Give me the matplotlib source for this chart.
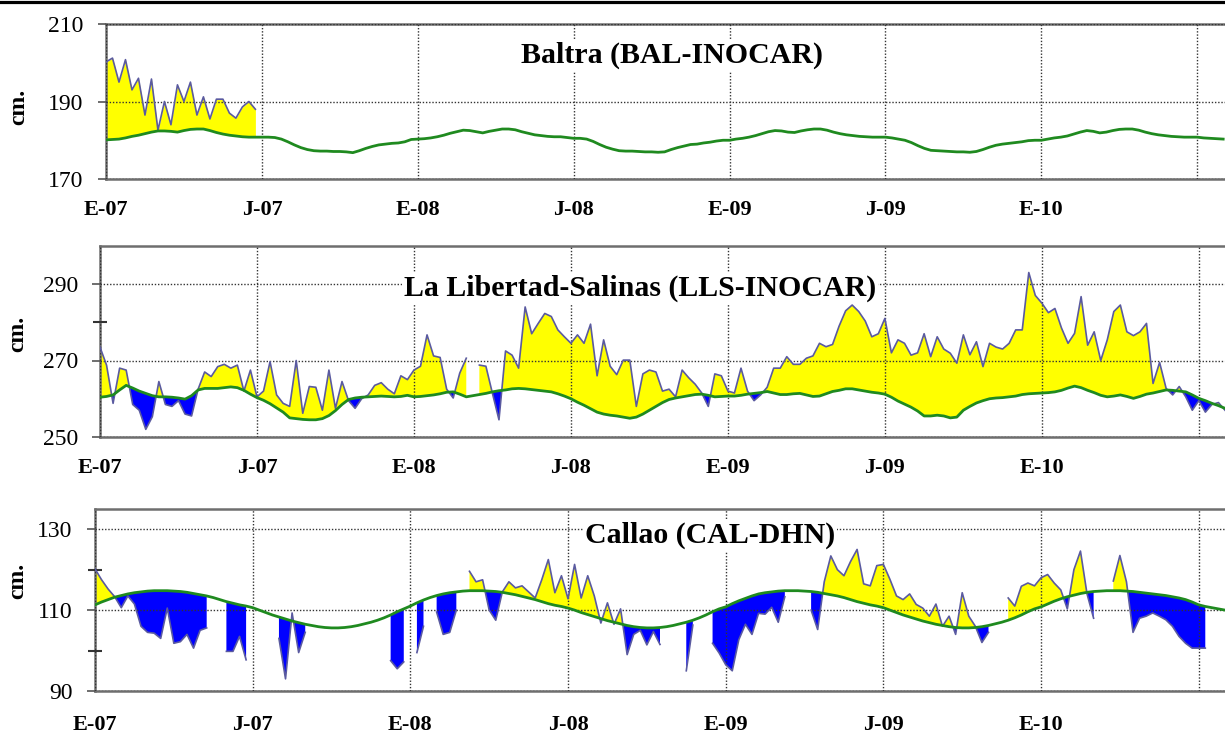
"""
Nivel del mar: Baltra, La Libertad-Salinas y Callao (2007-2010)
"""
import numpy as np
import matplotlib
matplotlib.use('Agg')
import matplotlib.pyplot as plt
from matplotlib.lines import Line2D

nan = np.nan

# eje temporal: pasos de 1/4 de mes desde enero 2007 (173 puntos)
meses = np.arange(173) / 4.0
ticks_x = [0, 6, 12, 18, 24, 30, 36, 42]
etiquetas_x = ['E-07', 'J-07', 'E-08', 'J-08', 'E-09', 'J-09', 'E-10', '']

# Baltra (BAL-INOCAR)
obs_bal = [200.2, 201.2, 195.0, 200.8, 193.0, 196.0, 186.5, 195.8, 182.6, 190.0, 184.0, 194.3,
           190.0, 195.0, 186.5, 191.2, 185.5, 190.6, 190.6, 187.0, 185.7, 188.6, 190.0, 188.0] + [nan] * 149
clim_bal = [180.1, 180.2, 180.3, 180.6, 181.0, 181.3, 181.7, 182.1, 182.4, 182.4, 182.3, 182.1,
            182.5, 182.8, 182.9, 182.9, 182.5, 182.0, 181.6, 181.3, 181.1, 180.9, 180.8, 180.8,
            180.8, 180.8, 180.7, 180.3, 179.6, 178.8, 178.1, 177.6, 177.3, 177.2, 177.2, 177.1,
            177.1, 177.0, 176.8, 177.3, 177.9, 178.4, 178.8, 179.0, 179.2, 179.3, 179.6, 180.2,
            180.3, 180.4, 180.6, 180.9, 181.3, 181.8, 182.2, 182.6, 182.5, 182.2, 181.9, 182.3,
            182.6, 182.9, 182.9, 182.7, 182.2, 181.8, 181.4, 181.2, 181.0, 180.9, 180.9, 180.7,
            180.5, 180.5, 180.3, 179.7, 178.9, 178.2, 177.7, 177.3, 177.2, 177.2, 177.1, 177.0,
            177.0, 176.9, 177.0, 177.6, 178.1, 178.5, 178.9, 179.0, 179.3, 179.5, 179.8, 180.0,
            180.0, 180.3, 180.5, 180.8, 181.2, 181.7, 182.2, 182.5, 182.4, 182.1, 182.0, 182.4,
            182.7, 182.9, 182.9, 182.6, 182.1, 181.7, 181.4, 181.2, 181.0, 180.9, 180.8, 180.8,
            180.8, 180.6, 180.3, 180.0, 179.4, 178.6, 177.9, 177.4, 177.3, 177.2, 177.1, 177.0,
            177.0, 176.9, 177.1, 177.6, 178.2, 178.7, 179.0, 179.2, 179.4, 179.6, 179.9, 180.0,
            180.0, 180.3, 180.6, 180.8, 181.1, 181.6, 182.1, 182.5, 182.3, 181.9, 182.1, 182.5,
            182.8, 182.9, 182.9, 182.6, 182.1, 181.7, 181.4, 181.2, 181.0, 180.9, 180.8, 180.8,
            180.8, 180.6, 180.5, 180.4, 180.3]

# La Libertad-Salinas (LLS-INOCAR)
obs_lls = [273.5, 268.8, 258.8, 268.0, 267.5, 258.5, 257.0, 252.0, 255.3, 264.5, 258.5, 258.0,
           259.5, 256.0, 255.5, 262.5, 267.0, 265.8, 268.4, 269.0, 268.0, 268.8, 262.0, 267.5,
           260.5, 262.0, 269.7, 261.0, 258.8, 258.0, 270.0, 256.2, 263.2, 263.0, 257.0, 267.5,
           257.5, 264.5, 259.5, 257.5, 260.0, 261.0, 263.5, 264.2, 262.5, 261.3, 266.0, 265.0,
           267.5, 268.5, 276.7, 271.2, 270.8, 262.5, 260.2, 266.7, 270.6, nan, 268.8, 268.5,
           261.4, 254.5, 272.5, 271.4, 268.0, 284.0, 277.0, 279.7, 282.3, 281.5, 278.0, 276.2,
           274.5, 276.7, 274.5, 279.5, 266.0, 275.4, 268.5, 266.3, 270.1, 270.1, 258.0, 266.5,
           267.5, 267.0, 262.0, 262.5, 260.5, 267.5, 265.5, 263.8, 261.5, 258.0, 266.5, 266.0,
           262.0, 261.5, 268.0, 262.0, 259.5, 261.0, 263.0, 268.0, 268.0, 271.0, 269.0, 269.0,
           270.6, 271.2, 274.5, 273.6, 274.2, 279.0, 283.0, 284.5, 282.8, 280.3, 276.2, 277.0,
           281.0, 272.0, 275.4, 274.5, 271.4, 272.0, 277.0, 271.0, 276.2, 273.0, 271.9, 269.3,
           276.7, 271.5, 274.9, 268.4, 274.5, 273.5, 273.0, 274.5, 278.0, 278.0, 293.0, 287.0,
           285.0, 282.5, 283.6, 278.5, 274.5, 277.1, 286.7, 274.0, 277.5, 270.0, 275.4, 282.8,
           284.5, 277.5, 276.5, 277.5, 279.7, 264.0, 269.5, 262.7, 261.0, 263.2, 260.5, 257.0,
           259.5, 256.5, 258.5, 259.0, 257.0]
clim_lls = [260.4, 260.6, 261.0, 262.3, 263.5, 262.8, 262.0, 261.4, 260.8, 260.5, 260.5, 260.4,
            260.2, 259.9, 260.8, 262.3, 262.7, 262.7, 262.7, 262.9, 263.1, 262.9, 262.2, 261.2,
            260.3, 259.6, 258.7, 257.6, 256.5, 255.0, 254.8, 254.6, 254.5, 254.5, 254.8, 255.6,
            256.9, 258.5, 259.8, 260.2, 260.4, 260.5, 260.6, 260.7, 260.6, 260.5, 260.6, 260.9,
            260.5, 260.6, 260.8, 261.0, 261.3, 261.7, 261.8, 261.2, 260.5, 260.8, 261.1, 261.4,
            261.8, 262.1, 262.3, 262.6, 262.7, 262.6, 262.4, 262.2, 262.0, 261.8, 261.3, 260.7,
            260.0, 259.1, 258.3, 257.4, 256.5, 256.0, 255.7, 255.5, 255.2, 254.9, 255.2, 256.0,
            257.0, 258.0, 259.0, 259.8, 260.2, 260.5, 260.8, 261.1, 261.2, 260.9, 260.5, 260.6,
            260.7, 260.7, 260.9, 261.2, 261.4, 261.6, 261.9, 261.5, 261.1, 261.1, 261.3, 261.4,
            261.0, 260.6, 260.7, 261.3, 261.9, 262.2, 262.6, 262.6, 262.3, 262.0, 261.7, 261.5,
            261.2, 260.4, 259.4, 258.6, 257.8, 256.8, 255.5, 255.5, 255.7, 255.5, 255.0, 255.2,
            257.0, 258.0, 258.9, 259.5, 260.0, 260.2, 260.3, 260.5, 260.7, 261.1, 261.3, 261.4,
            261.5, 261.6, 261.8, 262.2, 262.8, 263.3, 262.9, 262.2, 261.6, 260.9, 260.5, 260.7,
            261.0, 260.6, 260.1, 260.6, 261.2, 261.5, 261.9, 262.3, 262.2, 262.0, 261.8, 261.0,
            260.1, 259.5, 258.8, 258.2, 257.5]

# Callao (CAL-DHN)
obs_cal = [120.2, 117.5, 115.2, 113.3, 110.6, 113.5, 111.5, 106.0, 104.5, 104.3, 103.0, 110.5,
           101.8, 102.2, 104.0, 100.6, 105.0, 105.6, nan, nan, 99.8, 99.8, 103.5, 97.7,
           nan, nan, nan, nan, 103.0, 93.0, 109.3, 99.5, 104.5, nan, nan, nan,
           nan, nan, nan, nan, nan, nan, nan, nan, nan, 97.5, 95.5, 97.2,
           nan, 99.5, 106.0, nan, 109.5, 104.0, 104.5, 110.0, nan, 119.6, 117.0, 117.5,
           110.0, 107.5, 114.5, 117.0, 115.5, 116.0, 114.5, 113.0, 117.5, 122.5, 114.3, 118.5,
           112.8, 121.3, 113.0, 118.5, 113.5, 106.8, 111.8, 106.5, 110.3, 99.0, 104.0, 105.0,
           101.4, 104.7, 101.5, nan, nan, nan, 95.0, 106.3, nan, nan, 101.8, 99.4,
           96.5, 95.0, 102.7, 106.5, 104.0, 109.2, 109.0, 110.7, 107.0, 113.3, nan, nan,
           nan, 110.0, 105.2, 117.0, 123.4, 120.0, 118.5, 122.0, 125.0, 116.5, 116.0, 121.0,
           121.3, 117.6, 113.5, 112.6, 114.0, 111.4, 110.5, 108.5, 111.5, 106.0, 108.5, 104.0,
           114.3, 108.5, 106.0, 102.0, 104.5, nan, nan, 113.0, 111.0, 115.9, 116.7, 116.0,
           118.0, 118.8, 116.7, 115.0, 110.3, 120.0, 124.6, 114.0, 108.0, nan, nan, 117.2,
           123.5, 117.0, 104.5, 108.0, 108.5, 109.3, 108.5, 107.6, 106.0, 103.5, 101.8, 100.6,
           100.6, 100.6, nan, nan, nan]
clim_cal = [111.3, 112.0, 112.6, 113.2, 113.6, 114.0, 114.3, 114.5, 114.7, 114.8, 114.8, 114.8,
            114.7, 114.6, 114.4, 114.1, 113.8, 113.5, 113.1, 112.6, 112.1, 111.7, 111.3, 111.0,
            110.6, 110.0, 109.4, 108.8, 108.3, 107.8, 107.3, 106.9, 106.5, 106.2, 105.9, 105.7,
            105.6, 105.6, 105.7, 105.9, 106.2, 106.6, 107.0, 107.5, 108.1, 108.8, 109.6, 110.3,
            111.0, 111.8, 112.5, 113.1, 113.6, 114.0, 114.3, 114.5, 114.7, 114.8, 114.8, 114.8,
            114.7, 114.6, 114.4, 114.1, 113.8, 113.4, 113.0, 112.6, 112.1, 111.6, 111.2, 110.9,
            110.5, 110.0, 109.4, 108.9, 108.4, 107.9, 107.4, 107.0, 106.6, 106.2, 105.9, 105.7,
            105.6, 105.6, 105.7, 105.9, 106.2, 106.6, 107.0, 107.5, 108.1, 108.8, 109.6, 110.3,
            110.8, 111.6, 112.3, 112.9, 113.5, 114.0, 114.3, 114.5, 114.7, 114.8, 114.8, 114.8,
            114.7, 114.6, 114.4, 114.1, 113.8, 113.5, 113.1, 112.6, 112.1, 111.7, 111.3, 111.0,
            110.6, 110.0, 109.4, 108.8, 108.3, 107.8, 107.3, 106.9, 106.5, 106.2, 105.9, 105.7,
            105.6, 105.6, 105.7, 105.9, 106.2, 106.6, 107.0, 107.5, 108.1, 108.8, 109.6, 110.3,
            110.8, 111.5, 112.2, 112.8, 113.3, 113.7, 114.1, 114.4, 114.6, 114.7, 114.8, 114.8,
            114.8, 114.7, 114.6, 114.4, 114.2, 114.0, 113.8, 113.6, 113.3, 113.0, 112.6, 112.0,
            111.3, 110.9, 110.6, 110.3, 110.0]

W, H = 1225, 734
AMARILLO = '#ffff00'
AZUL = '#0000ff'
VERDE = '#1f8a1f'
LINEA = '#5a5aa0'

plt.rcParams['font.family'] = ['Liberation Serif', 'DejaVu Serif']


def panel(fig, caja_px, xmax, obs, clim, ylim, yticks, ymenores, titulo, pos_titulo, pos_cm, pad_x=15):
    """
    Dibuja un panel de nivel del mar
    """
    izq, arriba, abajo = caja_px
    ax = fig.add_axes([izq / W, 1 - abajo / H, (W - izq) / W, (abajo - arriba) / H])
    obs = np.array(obs, dtype=float)
    clim = np.array(clim, dtype=float)

    ax.fill_between(meses, obs, clim, where=obs >= clim, interpolate=True,
                    color=AMARILLO, linewidth=0, zorder=1)
    ax.fill_between(meses, obs, clim, where=obs < clim, interpolate=True,
                    color=AZUL, linewidth=0, zorder=1)
    ax.plot(meses, obs, color=LINEA, lw=1.2, zorder=3)
    ax.plot(meses, clim, color=VERDE, lw=2.0, zorder=4)

    ax.set_xlim(0, xmax)
    ax.set_ylim(*ylim)
    ax.set_xticks(ticks_x)
    ax.set_xticklabels(etiquetas_x, fontsize=16, fontweight='bold')
    ax.set_yticks(yticks)
    ax.set_yticklabels([str(v) for v in yticks], fontsize=17)
    if ymenores:
        ax.set_yticks(ymenores, minor=True)
        ax.tick_params(axis='y', which='minor', length=10, width=1.5,
                       direction='inout', color='#333333')
    ax.tick_params(axis='x', length=0, pad=pad_x)
    ax.tick_params(axis='y', which='major', length=6, width=1.2, color='#555555', pad=10)

    ax.grid(True, which='major', linestyle=(0, (1, 1.3)), color='#333333', linewidth=1.0)
    ax.set_axisbelow(False)
    for lado in ['top', 'bottom', 'left']:
        ax.spines[lado].set_color('#6e6e6e')
        ax.spines[lado].set_linewidth(1.8)
    ax.spines['right'].set_visible(False)

    tx, ty = pos_titulo
    ax.text((tx - izq) / (W - izq), (abajo - ty) / (abajo - arriba), titulo,
            transform=ax.transAxes, ha='center', va='center', fontsize=21.5,
            fontweight='bold', zorder=6,
            bbox=dict(facecolor='white', edgecolor='none', pad=1.5))
    fig.text(pos_cm[0] / W, 1 - pos_cm[1] / H, 'cm.', rotation=90, ha='center',
             va='center', fontsize=17, fontweight='bold')
    return ax


fig = plt.figure(figsize=(W / 100, H / 100), dpi=100)

panel(fig, (106, 24, 179), 43.07, obs_bal, clim_bal, (170, 210), [170, 190, 210], None,
      'Baltra (BAL-INOCAR)', (672, 55), (19, 107))
panel(fig, (100, 245.75, 437), 43.0, obs_lls, clim_lls, (250, 300), [250, 270, 290], [280],
      'La Libertad-Salinas (LLS-INOCAR)', (640, 288), (18, 334))
panel(fig, (95, 509, 691), 43.0, obs_cal, clim_cal, (90, 135), [90, 110, 130], [100, 120],
      'Callao (CAL-DHN)', (710, 535), (18, 581), pad_x=17)

# linea negra superior
fig.add_artist(Line2D([0, 1], [1 - 1.5 / H, 1 - 1.5 / H], color='black', lw=2.3,
                      transform=fig.transFigure))

fig.savefig('out.png', dpi=100)
